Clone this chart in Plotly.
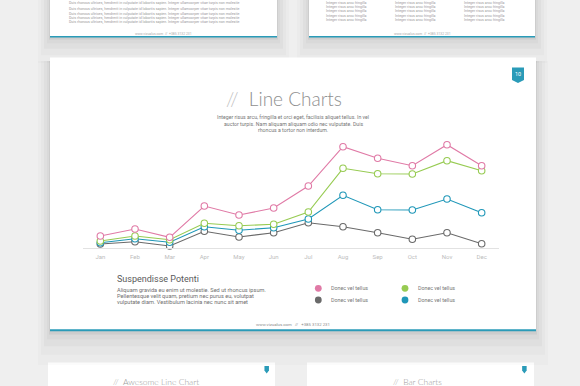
import plotly.graph_objects as go

W, H = 580, 386

months = ["Jan", "Feb", "Mar", "Apr", "May", "Jun", "Jul", "Aug", "Sep", "Oct", "Nov", "Dec"]
series_names = ["Donec vel tellus", "Donec vel tellus", "Donec vel tellus", "Donec vel tellus"]
pink_vals = [12, 19, 10.7, 42, 33, 40, 62, 101.3, 89.7, 82.3, 103.3, 82.3]
green_vals = [7, 12, 8.3, 24.7, 22.3, 23.7, 36, 79.7, 74.3, 74, 87.3, 77.3]
blue_vals = [5.3, 9.3, 5.7, 21.3, 17.7, 20.3, 29, 52.7, 38.3, 38, 49, 35.3]
gray_vals = [4, 6.3, 2, 16.7, 11, 15.3, 25.3, 21.3, 15.3, 8.7, 15.3, 4.3]

PINK, GREEN, BLUE, GRAY = "#e07aa6", "#97cb52", "#1f97b8", "#6a6a6a"
TEAL = "#2a9bb8"
LIGHT = "Lato Light, Lato Hairline, Lato, Roboto, sans-serif"


def px(x):
    return x / W


def py(y):
    return 1 - y / H


fig = go.Figure()

for vals, col in [(gray_vals, GRAY), (blue_vals, BLUE), (green_vals, GREEN), (pink_vals, PINK)]:
    fig.add_trace(go.Scatter(
        x=months, y=vals, mode="lines+markers",
        line=dict(color=col, width=1.1),
        marker=dict(size=6.5, color="white", line=dict(color=col, width=1.1)),
        showlegend=False, hoverinfo="skip", cliponaxis=False,
    ))

shapes = []
annotations = []


def rect(x0, y0, x1, y1, fill, opacity=1.0, layer="below"):
    shapes.append(dict(type="rect", xref="paper", yref="paper",
                       x0=px(x0), x1=px(x1), y0=py(y1), y1=py(y0),
                       fillcolor=fill, opacity=opacity, line=dict(width=0), layer=layer))


def shadow(x0, y0, x1, y1, depth=32):
    steps = [(1, 0.10, 0.13), (3, 0.25, 0.08), (6, 0.45, 0.055), (9, 0.7, 0.04), (12, 1.0, 0.03)]
    for dx, fy, op in steps:
        rect(x0 - dx, y0 + 4, x1 + dx, y1 + depth * fy, "#808080", op)


def text(x, y, s, size, color, xanchor="center", family="Roboto", weight=None):
    f = dict(size=size, color=color, family=family)
    if weight:
        f["weight"] = weight
    annotations.append(dict(xref="paper", yref="paper", x=px(x), y=py(y), text=s,
                            showarrow=False, xanchor=xanchor, yanchor="middle", font=f))


def badge(xc, ytop, w, h, label=None, size=5):
    x0, x1 = xc - w / 2, xc + w / 2
    yb = ytop + h
    path = (f"M {px(x0)} {py(ytop)} L {px(x1)} {py(ytop)} L {px(x1)} {py(yb - 3)} "
            f"L {px(xc)} {py(yb)} L {px(x0)} {py(yb - 3)} Z")
    shapes.append(dict(type="path", xref="paper", yref="paper", path=path,
                       fillcolor=TEAL, line=dict(width=0), layer="below"))
    if label:
        text(xc, ytop + (h - 3) / 2 + 0.5, label, size, "white")


# ---- top partial cards ----
shadow(50, -10, 277, 37, 26)
shadow(309, -10, 535, 37, 26)
rect(50, -10, 277, 37, "white")
rect(309, -10, 535, 37, "white")
rect(50, 36, 277, 37.5, TEAL)
rect(309, 36, 535, 37.5, TEAL)
lorem = "Duis rhoncus ultrices, hendrerit in vulputate id lobortis sapien. Integer ullamcorper vitae turpis non molestie"
for yy in [3, 9, 13.5, 18, 22.5]:
    text(67, yy, lorem, 3.6, "#9a9a9a", xanchor="left")
for cx in [324, 393, 462]:
    for yy in [2.5, 7, 11.5, 16, 20.5]:
        text(cx, yy, "Integer risus arcu fringilla", 3.6, "#9a9a9a", xanchor="left")
text(163, 34, "www.vizualus.com  //  +385 3132 231", 3.4, "#aaaaaa")
text(422, 34, "www.vizualus.com  //  +385 3132 231", 3.4, "#aaaaaa")

# ---- bottom partial cards ----
rect(48, 362.5, 275, 400, "white")
rect(307, 362.5, 534, 400, "white")
text(156, 382, "//  Awesome Line Chart", 8.5, "#9a9a9a", family=LIGHT, weight=300)
text(417, 382, "//  Bar Charts", 8.5, "#9a9a9a", family=LIGHT, weight=300)
badge(266.7, 366, 4.5, 7.5)
badge(524.4, 366, 4.5, 7.5)

# ---- main card ----
shadow(50, 57, 536, 331, 34)
rect(50, 57.5, 536, 331, "white")
rect(50, 329.3, 536, 331.3, TEAL)
badge(518, 67.5, 12, 15.5, "10", 5.5)

text(284, 98, "<span style='color:#bdbdbd'>//</span>  Line Charts", 19, "#8f8f8f", family=LIGHT, weight=300)
body = ["Integer risus arcu, fringilla et orci eget, facilisis aliquet tellus. In vel",
        "auctor turpis. Nam aliquam aliquam odio nec vulputate. Duis",
        "rhoncus a tortor non interdum."]
for i, line in enumerate(body):
    text(293, 117.3 + i * 6.5, line, 5.2, "#777777")

text(115, 279.3, "Suspendisse Potenti", 9, "#5a5a5a", xanchor="left")
sub = ["Aliquam gravida eu enim ut molestie. Sed ut rhoncus ipsum.",
       "Pellentesque velit quam, pretium nec purus eu, volutpat",
       "vulputate diam. Vestibulum lacinia nec nunc sit amet"]
for i, line in enumerate(sub):
    text(115, 290 + i * 5.9, line, 5.6, "#6f6f6f", xanchor="left")

legend_items = [(318.3, 288.3, PINK), (318.3, 300, GRAY), (405, 288.3, GREEN), (405, 300, BLUE)]
for (lx, ly, col), name in zip(legend_items, series_names):
    r = 3.4
    shapes.append(dict(type="circle", xref="paper", yref="paper",
                       x0=px(lx - r), x1=px(lx + r), y0=py(ly + r), y1=py(ly - r),
                       fillcolor=col, line=dict(width=0), layer="above"))
    text(lx + 11, ly, name, 5.3, "#777777", xanchor="left")

text(293, 324, "www.vizualus.com   //   +385 3132 231", 4.3, "#8a8a8a")

fig.update_layout(
    width=W, height=H,
    margin=dict(l=0, r=0, t=0, b=0),
    paper_bgcolor="#efefef",
    plot_bgcolor="rgba(0,0,0,0)",
    shapes=shapes,
    annotations=annotations,
    xaxis=dict(domain=[px(83), px(499)], range=[-0.5, 11.5], showgrid=False, zeroline=False,
               showline=True, linecolor="#e2e2e2", linewidth=1, ticks="",
               tickfont=dict(size=6, color="#bdbdbd", family="Roboto"), ticklabelstandoff=3,
               fixedrange=True),
    yaxis=dict(domain=[py(248), py(140)], range=[0, 108], visible=False, fixedrange=True),
)

fig.write_html("out.html", config={"displayModeBar": False},
               post_script="document.body.style.margin='0';document.body.style.overflow='hidden';")
